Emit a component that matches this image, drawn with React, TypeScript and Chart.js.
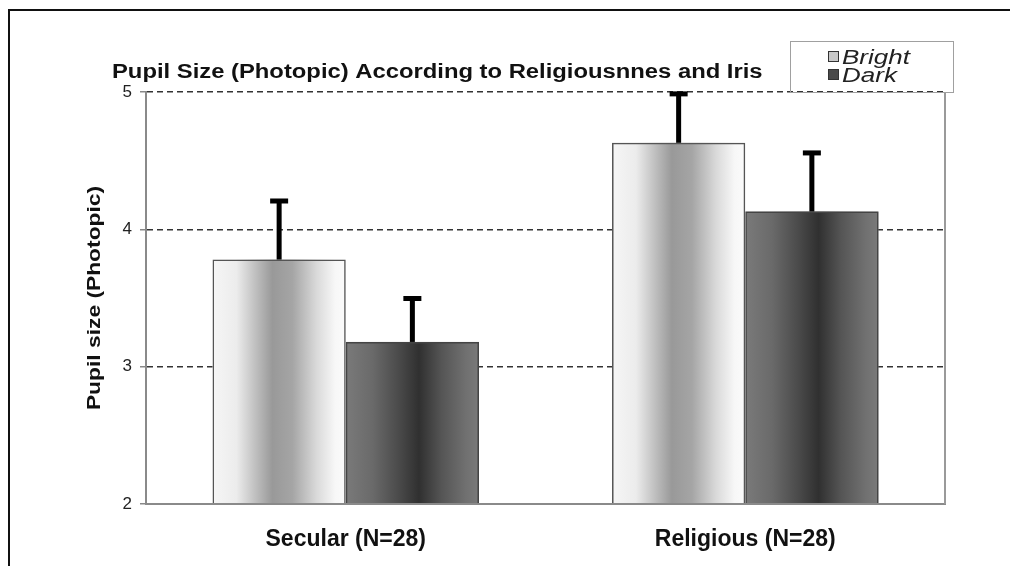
import React, { useEffect, useRef } from "react";
import { Chart, registerables } from "chart.js";

Chart.register(...registerables);

const categories = ["Secular (N=28)", "Religious (N=28)"];
const seriesNames = ["Bright", "Dark"];
const brightValues = [3.78, 4.63];
const darkValues = [3.18, 4.13];
const brightErrorTop = [4.21, 4.99];
const darkErrorTop = [3.5, 4.56];
const yTicks = [2, 3, 4, 5];
const chartTitle = "Pupil Size (Photopic) According to Religiousnnes and Iris";
const yAxisTitle = "Pupil size (Photopic)";

const FONT = "'Liberation Sans', Arial, sans-serif";

const brightStops: [number, string][] = [
  [0, "#f6f6f6"],
  [0.18, "#ececec"],
  [0.33, "#bdbdbd"],
  [0.45, "#999999"],
  [0.6, "#a5a5a5"],
  [0.78, "#d9d9d9"],
  [0.92, "#f7f7f7"],
  [1, "#fbfbfb"],
];
const darkStops: [number, string][] = [
  [0, "#7a7a7a"],
  [0.2, "#6a6a6a"],
  [0.4, "#4a4a4a"],
  [0.55, "#303030"],
  [0.72, "#555555"],
  [0.9, "#707070"],
  [1, "#7a7a7a"],
];

function stretchedText(ctx: any, text: string, x: number, y: number, sx: number, align: string) {
  ctx.save();
  ctx.translate(x, y);
  ctx.scale(sx, 1);
  ctx.textAlign = align;
  ctx.fillText(text, 0, 0);
  ctx.restore();
}

const barPlugin = {
  id: "gradBars",
  beforeDatasetDraw(chart: any, args: any) {
    const ctx = chart.ctx;
    const area = chart.chartArea;
    const meta = args.meta;
    const stops = args.index === 0 ? brightStops : darkStops;
    ctx.save();
    ctx.beginPath();
    ctx.rect(area.left, area.top, area.right - area.left, area.bottom - area.top);
    ctx.clip();
    meta.data.forEach((el: any) => {
      const { x, y, base, width } = el.getProps(["x", "y", "base", "width"], true);
      const left = x - width / 2;
      const g = ctx.createLinearGradient(left, 0, left + width, 0);
      stops.forEach(([o, c]) => g.addColorStop(o, c));
      ctx.fillStyle = g;
      ctx.fillRect(left, y, width, base - y);
    });
    ctx.restore();
  },
  afterDatasetsDraw(chart: any) {
    const ctx = chart.ctx;
    const yScale = chart.scales.y;
    const area = chart.chartArea;
    const errs = [brightErrorTop, darkErrorTop];
    ctx.save();
    // bottom axis line redrawn over bars
    ctx.strokeStyle = "#8a8a8a";
    ctx.lineWidth = 2;
    ctx.beginPath();
    ctx.moveTo(area.left, area.bottom);
    ctx.lineTo(area.right, area.bottom);
    ctx.stroke();
    // right border of plot area
    ctx.strokeStyle = "#9a9a9a";
    ctx.beginPath();
    ctx.moveTo(area.right, area.top);
    ctx.lineTo(area.right, area.bottom);
    ctx.stroke();
    // error bars
    chart.data.datasets.forEach((ds: any, di: number) => {
      const meta = chart.getDatasetMeta(di);
      meta.data.forEach((el: any, i: number) => {
        const { x, y } = el.getProps(["x", "y"], true);
        const ty = yScale.getPixelForValue(errs[di][i]);
        ctx.fillStyle = "#000";
        ctx.fillRect(x - 2.5, ty, 5, y - ty);
        ctx.fillRect(x - 9, ty - 2, 18, 5);
      });
    });
    // title
    ctx.fillStyle = "#111";
    ctx.font = `bold 20px ${FONT}`;
    ctx.textBaseline = "middle";
    stretchedText(ctx, chartTitle, area.left - 34, area.top - 20, 1.19, "left");
    // y axis title
    ctx.save();
    ctx.translate(area.left - 51, (area.top + area.bottom) / 2);
    ctx.rotate(-Math.PI / 2);
    ctx.font = `bold 19px ${FONT}`;
    ctx.textBaseline = "middle";
    stretchedText(ctx, yAxisTitle, 0, 0, 1.2, "center");
    ctx.restore();
    // legend
    const lx = area.right - 155;
    const ly = area.top - 51;
    const lw = 163;
    const lh = 51;
    ctx.strokeStyle = "#a0a0a0";
    ctx.lineWidth = 1;
    ctx.strokeRect(lx + 0.5, ly + 0.5, lw, lh);
    seriesNames.forEach((name, i) => {
      const cy = ly + 16 + i * 18;
      ctx.fillStyle = i === 0 ? "#c8c8c8" : "#4a4a4a";
      ctx.fillRect(lx + 38, cy - 6, 11, 11);
      ctx.strokeStyle = "#333";
      ctx.strokeRect(lx + 38.5, cy - 5.5, 10, 10);
      ctx.fillStyle = "#222";
      ctx.font = `italic 20px ${FONT}`;
      ctx.textBaseline = "middle";
      stretchedText(ctx, name, lx + 52, cy + 1, 1.3, "left");
    });
    ctx.restore();
  },
};

export default function App() {
  const ref = useRef<HTMLCanvasElement>(null);
  useEffect(() => {
    if (!ref.current) return;
    const chart = new Chart(ref.current, {
      type: "bar",
      data: {
        labels: categories,
        datasets: [
          {
            label: seriesNames[0],
            data: brightValues,
            base: 2,
            backgroundColor: "rgba(0,0,0,0)",
            borderColor: "#555",
            borderWidth: 1.5,
            categoryPercentage: 0.667,
            barPercentage: 1,
          },
          {
            label: seriesNames[1],
            data: darkValues,
            base: 2,
            backgroundColor: "rgba(0,0,0,0)",
            borderColor: "#444",
            borderWidth: 1.5,
            categoryPercentage: 0.667,
            barPercentage: 1,
          },
        ],
      },
      options: {
        responsive: false,
        animation: false,
        layout: { padding: { left: 0, top: 81, right: 73, bottom: 0 } },
        plugins: {
          legend: { display: false },
          title: { display: false },
          tooltip: { enabled: false },
        },
        scales: {
          x: {
            grid: { display: false, drawTicks: false },
            border: { color: "#8a8a8a", width: 2 },
            ticks: {
              padding: 22,
              color: "#111",
              font: { family: FONT, size: 23, weight: "bold" },
            },
            afterFit: (s: any) => {
              s.height = 62;
            },
          },
          y: {
            min: 2,
            max: 5,
            afterBuildTicks: (s: any) => {
              s.ticks = yTicks.map((v) => ({ value: v }));
            },
            grid: {
              color: (c: any) => (c.tick && c.tick.value === 2 ? "rgba(0,0,0,0)" : "#333"),
              lineWidth: 1.5,
              tickColor: "#888",
              tickLength: 6,
              tickBorderDash: [],
            },
            border: { color: "#8a8a8a", width: 2, dash: [6, 4] },
            ticks: {
              padding: 8,
              color: "#222",
              font: { family: FONT, size: 17 },
            },
            afterFit: (s: any) => {
              s.width = 136;
            },
          },
        },
      },
      plugins: [barPlugin],
    });
    return () => chart.destroy();
  }, []);
  return (
    <div
      style={{
        marginTop: 1,
        borderTop: "2px solid #111",
        borderLeft: "2px solid #111",
        width: 1008,
        height: 555,
        background: "#fff",
      }}
    >
      <canvas ref={ref} width={1008} height={555} style={{ display: "block" }} />
    </div>
  );
}
